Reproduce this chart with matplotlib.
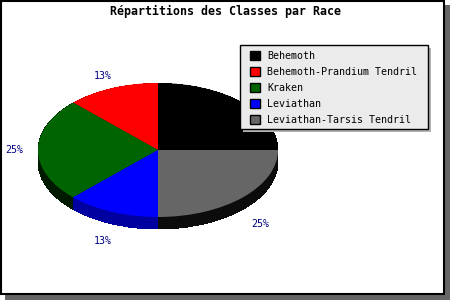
import matplotlib
matplotlib.use("Agg")
import matplotlib.pyplot as plt
from matplotlib.patches import Rectangle, Patch
import numpy as np

title = "Répartitions des Classes par Race"
categories = ["Behemoth", "Behemoth-Prandium Tendril", "Kraken", "Leviathan",
              "Leviathan-Tarsis Tendril"]
values = [2, 1, 2, 1, 2]
top_colors = ["#000000", "#ff0000", "#006400", "#0000ff", "#666666"]
side_colors = ["#000000", "#a00000", "#001a00", "#0000a0", "#0c0c0c"]

W, H = 450, 300
fig = plt.figure(figsize=(W / 100, H / 100), dpi=100)
fig.patch.set_facecolor("white")

# background / frame axes in pixel coords
bg = fig.add_axes([0, 0, 1, 1])
bg.set_zorder(-1)
bg.set_xlim(0, W)
bg.set_ylim(H, 0)
bg.axis("off")
bg.add_patch(Rectangle((5, 5), W - 5, H - 5, facecolor="#666666", edgecolor="none", zorder=0))
bg.add_patch(Rectangle((0.5, 0.5), 443.5, 293.5, facecolor="white", edgecolor="black",
                       linewidth=1.5, zorder=1))
bg.text(225, 11, title, ha="center", va="center", fontsize=8.4,
        family="DejaVu Sans Mono", fontweight="bold", zorder=5)

# pie axes
cx, cy, rx, ry = 158, 150, 120, 67
ext = 1.6
ax = fig.add_axes([(cx - ext * rx) / W, (H - cy - ext * ry) / H,
                   2 * ext * rx / W, 2 * ext * ry / H])
ax.set_zorder(0)
ax.axis("off")
depth = 12 / ry
nlay = 25
for k in range(nlay, 0, -1):
    off = depth * k / nlay
    ax.pie(values, colors=side_colors, startangle=0, counterclock=True,
           center=(0, -off), radius=1, wedgeprops=dict(linewidth=0, antialiased=False))
wedges, _ = ax.pie(values, colors=top_colors, startangle=0, counterclock=True,
                   center=(0, 0), radius=1, wedgeprops=dict(linewidth=0))
ax.set_aspect("auto")
ax.set_xlim(-ext, ext)
ax.set_ylim(-ext, ext)

total = sum(values)
start = 0.0
for v in values:
    ang = start + 360.0 * v / total / 2
    start += 360.0 * v / total
    a = np.deg2rad(ang)
    x = 1.2 * np.cos(a)
    y = 1.2 * np.sin(a)
    if y < -1e-6:
        y -= 0.25
    pct = int(100.0 * v / total + 0.5)
    ax.text(x, y, f"{pct}%", ha="center", va="center", fontsize=7.2,
            family="DejaVu Sans Mono", color="#000080", zorder=1)

# legend frame overlay (above the pie)
ov = fig.add_axes([0, 0, 1, 1])
ov.set_zorder(2)
ov.patch.set_visible(False)
ov.set_xlim(0, W)
ov.set_ylim(H, 0)
ov.axis("off")
ov.add_patch(Rectangle((243, 48), 188, 84, facecolor="#b4b4b4", edgecolor="none"))
ov.add_patch(Rectangle((240, 45), 188, 84, facecolor="#ebebeb", edgecolor="black",
                       linewidth=1))

handles = [Patch(facecolor=c, edgecolor="black", linewidth=1) for c in top_colors]
leg = fig.legend(handles, categories, loc="upper left",
                 bbox_to_anchor=(250 / W, 1 - 51 / H), borderaxespad=0,
                 prop=dict(family="DejaVu Sans Mono", size=7.2),
                 frameon=False, handlelength=1.0, handleheight=1.0,
                 handletextpad=0.7, labelspacing=0.6, borderpad=0)
leg.set_zorder(10)

fig.savefig("out.png", dpi=100)
